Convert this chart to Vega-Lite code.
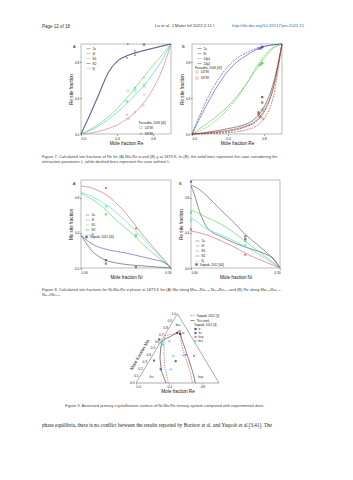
{
"$schema":"https://vega.github.io/schema/vega-lite/v6.json",
"padding":0,"background":"white","spacing":0,
"resolve":{"scale":{"color":"independent","shape":"independent","stroke":"independent","strokeDash":"independent","fill":"independent"},"legend":{"color":"independent","shape":"independent","stroke":"independent","strokeDash":"independent","fill":"independent"}},
"config":{
 "view":{"stroke":null},
 "font":"Liberation Sans",
 "axis":{"labelFontSize":3.2,"titleFontSize":4.6,"labelColor":"#222","titleColor":"#111","titleFontWeight":"normal","tickSize":1.5,"tickWidth":0.5,"tickColor":"#444","domain":false,"grid":false,"labelPadding":0.6,"titlePadding":1,"labelOverlap":false,"labelSeparation":0,"labelFont":"Liberation Sans","titleFont":"Liberation Sans"},
 "legend":{"labelFontSize":3,"titleFontSize":3,"titleFontWeight":"normal","symbolSize":16,"rowPadding":0,"padding":0,"labelOffset":1.5,"titlePadding":0.5,"symbolStrokeWidth":0.6,"labelColor":"#222","titleColor":"#222","orient":"none","labelFont":"Liberation Sans","titleFont":"Liberation Sans"},
 "title":{"fontSize":4,"fontWeight":"normal","color":"#222","font":"Liberation Sans"}
},
"vconcat":[
 {"width":42,"height":23,"data":{"values":[]},"mark":"point"},
 {"hconcat":[
  {"width":41,"height":19,"data":{"values":[]},"mark":"point"},
  {"width":2,"height":2,"data":{"values":[{"t":"Page 12 of 18"}]},"mark":{"type":"text","align":"left","baseline":"top","fontSize":4.5,"color":"#333"},"encoding":{"text":{"field":"t","type":"nominal"}}},
  {"width":111,"height":1,"data":{"values":[]},"mark":"point"},
  {"width":2,"height":2,"data":{"values":[{"t":"Lu et al.  J Mater Inf 2022;2:11  I"}]},"mark":{"type":"text","align":"left","baseline":"top","fontSize":4.3,"color":"#333"},"encoding":{"text":{"field":"t","type":"nominal"}}},
  {"width":75,"height":1,"data":{"values":[]},"mark":"point"},
  {"width":2,"height":2,"data":{"values":[{"t":"http://dx.doi.org/10.20517/jmi.2022.15"}]},"mark":{"type":"text","align":"left","baseline":"top","fontSize":4.3,"color":"#2a6ebb"},"encoding":{"text":{"field":"t","type":"nominal"}}}
 ],"spacing":0,"bounds":"flush"},
 {"hconcat":[
  {"width":81,"height":110,"data":{"values":[]},"mark":"point"},
  {"width":90,"height":90,
   "view":{"stroke":"#777","strokeWidth":0.5},
   "title":{"text":"A","anchor":"start","frame":"group","dx":-8,"offset":-6.5},
   "layer":[
    {"data":{"values":[
     {"s":"2a","x":0,"y":0},{"s":"2a","x":0.1,"y":0.21},{"s":"2a","x":0.2,"y":0.44},{"s":"2a","x":0.3,"y":0.67},{"s":"2a","x":0.4,"y":0.8},{"s":"2a","x":0.5,"y":0.865},{"s":"2a","x":0.6,"y":0.9},{"s":"2a","x":0.7,"y":0.925},{"s":"2a","x":0.8,"y":0.95},{"s":"2a","x":0.9,"y":0.975},{"s":"2a","x":1,"y":1},
     {"s":"4f","x":0,"y":0},{"s":"4f","x":0.1,"y":0.01},{"s":"4f","x":0.2,"y":0.03},{"s":"4f","x":0.3,"y":0.06},{"s":"4f","x":0.4,"y":0.1},{"s":"4f","x":0.5,"y":0.16},{"s":"4f","x":0.6,"y":0.24},{"s":"4f","x":0.7,"y":0.35},{"s":"4f","x":0.8,"y":0.5},{"s":"4f","x":0.9,"y":0.71},{"s":"4f","x":1,"y":1},
     {"s":"8i1","x":0,"y":0},{"s":"8i1","x":0.1,"y":0.05},{"s":"8i1","x":0.2,"y":0.11},{"s":"8i1","x":0.3,"y":0.19},{"s":"8i1","x":0.4,"y":0.28},{"s":"8i1","x":0.5,"y":0.39},{"s":"8i1","x":0.6,"y":0.51},{"s":"8i1","x":0.7,"y":0.64},{"s":"8i1","x":0.8,"y":0.76},{"s":"8i1","x":0.9,"y":0.88},{"s":"8i1","x":1,"y":1},
     {"s":"8i2","x":0,"y":0},{"s":"8i2","x":0.1,"y":0.22},{"s":"8i2","x":0.2,"y":0.45},{"s":"8i2","x":0.3,"y":0.68},{"s":"8i2","x":0.4,"y":0.81},{"s":"8i2","x":0.5,"y":0.865},{"s":"8i2","x":0.6,"y":0.9},{"s":"8i2","x":0.7,"y":0.93},{"s":"8i2","x":0.8,"y":0.955},{"s":"8i2","x":0.9,"y":0.978},{"s":"8i2","x":1,"y":1},
     {"s":"8j","x":0,"y":0},{"s":"8j","x":0.1,"y":0.04},{"s":"8j","x":0.2,"y":0.09},{"s":"8j","x":0.3,"y":0.16},{"s":"8j","x":0.4,"y":0.24},{"s":"8j","x":0.5,"y":0.33},{"s":"8j","x":0.6,"y":0.43},{"s":"8j","x":0.7,"y":0.54},{"s":"8j","x":0.8,"y":0.67},{"s":"8j","x":0.9,"y":0.82},{"s":"8j","x":1,"y":1}
    ]},
    "mark":{"type":"line","interpolate":"monotone","strokeWidth":0.6},
    "encoding":{
     "x":{"field":"x","type":"quantitative","scale":{"domain":[0,1]},"axis":{"values":[0,0.1,0.2,0.3,0.4,0.5,0.6,0.7,0.8,0.9,1],"format":".1f","title":"Mole fraction Re","labelOverlap":false}},
     "y":{"field":"y","type":"quantitative","scale":{"domain":[0,1]},"axis":{"values":[0,0.1,0.2,0.3,0.4,0.5,0.6,0.7,0.8,0.9,1],"format":".1f","title":"Re site fraction","labelOverlap":false}},
     "color":{"field":"s","type":"nominal","scale":{"domain":["2a","4f","8i1","8i2","8j"],"range":["#505050","#e06666","#55cc55","#2e2e8a","#33cccc"]},"legend":{"title":null,"legendX":5,"legendY":2,"symbolType":"stroke"}}}},
    {"data":{"values":[
     {"s":"2a","x":0.52,"y":1.0,"t":"1873K"},{"s":"2a","x":0.7,"y":1.0,"t":"1873K"},
     {"s":"8i2","x":0.51,"y":0.85,"t":"1873K"},{"s":"8i2","x":0.6,"y":0.88,"t":"1873K"},{"s":"8i2","x":0.6,"y":0.92,"t":"1473K"},{"s":"8i2","x":0.7,"y":0.99,"t":"1473K"},
     {"s":"8i1","x":0.51,"y":0.37,"t":"1873K"},{"s":"8i1","x":0.6,"y":0.52,"t":"1873K"},{"s":"8i1","x":0.7,"y":0.63,"t":"1873K"},{"s":"8i1","x":0.52,"y":0.48,"t":"1473K"},{"s":"8i1","x":0.6,"y":0.5,"t":"1473K"},
     {"s":"8j","x":0.51,"y":0.36,"t":"1473K"},{"s":"8j","x":0.6,"y":0.48,"t":"1473K"},{"s":"8j","x":0.7,"y":0.55,"t":"1473K"},{"s":"8j","x":0.7,"y":0.53,"t":"1873K"},
     {"s":"4f","x":0.51,"y":0.22,"t":"1873K"},{"s":"4f","x":0.53,"y":0.17,"t":"1473K"},{"s":"4f","x":0.6,"y":0.25,"t":"1873K"},{"s":"4f","x":0.7,"y":0.44,"t":"1873K"},{"s":"4f","x":0.69,"y":0.32,"t":"1473K"}
    ]},
    "layer":[
     {"transform":[{"filter":"datum.t=='1473K'"}],"mark":{"type":"point","filled":false,"size":5,"strokeWidth":0.5},
      "encoding":{"x":{"field":"x","type":"quantitative"},"y":{"field":"y","type":"quantitative"},"color":{"field":"s","type":"nominal"},
       "shape":{"field":"t","type":"nominal","scale":{"domain":["1473K","1873K"],"range":["circle","triangle-up"]},"legend":{"title":"Farzadfar, 2009 [40]","legendX":58,"legendY":78,"symbolSize":6}}}},
     {"transform":[{"filter":"datum.t=='1873K'"}],"mark":{"type":"point","filled":true,"size":5},
      "encoding":{"x":{"field":"x","type":"quantitative"},"y":{"field":"y","type":"quantitative"},"color":{"field":"s","type":"nominal"},"shape":{"field":"t","type":"nominal"}}}
    ]}
   ]},
  {"width":21,"height":1,"data":{"values":[]},"mark":"point"},
  {"width":90,"height":90,
   "view":{"stroke":"#777","strokeWidth":0.5},
   "title":{"text":"B","anchor":"start","frame":"group","dx":-10,"offset":-6.5},
   "layer":[
    {"data":{"values":[
     {"s":"24g2","m":"L","x":0,"y":0},{"s":"24g2","m":"L","x":0.1,"y":0.2},{"s":"24g2","m":"L","x":0.2,"y":0.39},{"s":"24g2","m":"L","x":0.3,"y":0.56},{"s":"24g2","m":"L","x":0.4,"y":0.7},{"s":"24g2","m":"L","x":0.5,"y":0.8},{"s":"24g2","m":"L","x":0.6,"y":0.87},{"s":"24g2","m":"L","x":0.7,"y":0.93},{"s":"24g2","m":"L","x":0.8,"y":0.97},{"s":"24g2","m":"L","x":0.9,"y":0.99},{"s":"24g2","m":"L","x":1,"y":1},
     {"s":"24g2","m":"N","x":0,"y":0},{"s":"24g2","m":"N","x":0.1,"y":0.24},{"s":"24g2","m":"N","x":0.2,"y":0.45},{"s":"24g2","m":"N","x":0.3,"y":0.62},{"s":"24g2","m":"N","x":0.4,"y":0.75},{"s":"24g2","m":"N","x":0.5,"y":0.84},{"s":"24g2","m":"N","x":0.6,"y":0.9},{"s":"24g2","m":"N","x":0.7,"y":0.945},{"s":"24g2","m":"N","x":0.8,"y":0.975},{"s":"24g2","m":"N","x":0.9,"y":0.99},{"s":"24g2","m":"N","x":1,"y":1},
     {"s":"24g1","m":"L","x":0,"y":0},{"s":"24g1","m":"L","x":0.1,"y":0.07},{"s":"24g1","m":"L","x":0.2,"y":0.14},{"s":"24g1","m":"L","x":0.3,"y":0.22},{"s":"24g1","m":"L","x":0.4,"y":0.31},{"s":"24g1","m":"L","x":0.5,"y":0.42},{"s":"24g1","m":"L","x":0.6,"y":0.55},{"s":"24g1","m":"L","x":0.7,"y":0.7},{"s":"24g1","m":"L","x":0.8,"y":0.84},{"s":"24g1","m":"L","x":0.9,"y":0.95},{"s":"24g1","m":"L","x":1,"y":1},
     {"s":"24g1","m":"N","x":0,"y":0},{"s":"24g1","m":"N","x":0.1,"y":0.04},{"s":"24g1","m":"N","x":0.2,"y":0.1},{"s":"24g1","m":"N","x":0.3,"y":0.18},{"s":"24g1","m":"N","x":0.4,"y":0.28},{"s":"24g1","m":"N","x":0.5,"y":0.4},{"s":"24g1","m":"N","x":0.6,"y":0.55},{"s":"24g1","m":"N","x":0.7,"y":0.72},{"s":"24g1","m":"N","x":0.8,"y":0.87},{"s":"24g1","m":"N","x":0.9,"y":0.96},{"s":"24g1","m":"N","x":1,"y":1},
     {"s":"2a","m":"L","x":0,"y":0},{"s":"2a","m":"L","x":0.1,"y":0.01},{"s":"2a","m":"L","x":0.2,"y":0.025},{"s":"2a","m":"L","x":0.3,"y":0.04},{"s":"2a","m":"L","x":0.4,"y":0.06},{"s":"2a","m":"L","x":0.5,"y":0.08},{"s":"2a","m":"L","x":0.6,"y":0.11},{"s":"2a","m":"L","x":0.7,"y":0.17},{"s":"2a","m":"L","x":0.8,"y":0.3},{"s":"2a","m":"L","x":0.9,"y":0.55},{"s":"2a","m":"L","x":1,"y":1},
     {"s":"2a","m":"N","x":0,"y":0},{"s":"2a","m":"N","x":0.2,"y":0.01},{"s":"2a","m":"N","x":0.4,"y":0.03},{"s":"2a","m":"N","x":0.5,"y":0.05},{"s":"2a","m":"N","x":0.6,"y":0.08},{"s":"2a","m":"N","x":0.7,"y":0.13},{"s":"2a","m":"N","x":0.8,"y":0.24},{"s":"2a","m":"N","x":0.9,"y":0.5},{"s":"2a","m":"N","x":1,"y":1},
     {"s":"8c","m":"L","x":0,"y":0},{"s":"8c","m":"L","x":0.2,"y":0.015},{"s":"8c","m":"L","x":0.4,"y":0.04},{"s":"8c","m":"L","x":0.5,"y":0.06},{"s":"8c","m":"L","x":0.6,"y":0.09},{"s":"8c","m":"L","x":0.7,"y":0.14},{"s":"8c","m":"L","x":0.8,"y":0.26},{"s":"8c","m":"L","x":0.9,"y":0.5},{"s":"8c","m":"L","x":1,"y":1},
     {"s":"8c","m":"N","x":0,"y":0},{"s":"8c","m":"N","x":0.2,"y":0.005},{"s":"8c","m":"N","x":0.4,"y":0.015},{"s":"8c","m":"N","x":0.5,"y":0.025},{"s":"8c","m":"N","x":0.6,"y":0.045},{"s":"8c","m":"N","x":0.7,"y":0.08},{"s":"8c","m":"N","x":0.8,"y":0.17},{"s":"8c","m":"N","x":0.9,"y":0.4},{"s":"8c","m":"N","x":1,"y":1}
    ]},
    "mark":{"type":"line","interpolate":"monotone","strokeWidth":0.6},
    "encoding":{
     "x":{"field":"x","type":"quantitative","scale":{"domain":[0,1]},"axis":{"values":[0,0.1,0.2,0.3,0.4,0.5,0.6,0.7,0.8,0.9,1],"format":".1f","title":"Mole fraction Re","labelOverlap":false}},
     "y":{"field":"y","type":"quantitative","scale":{"domain":[0,1]},"axis":{"values":[0,0.1,0.2,0.3,0.4,0.5,0.6,0.7,0.8,0.9,1],"format":".1f","title":"Re site fraction","labelOverlap":false}},
     "color":{"field":"s","type":"nominal","scale":{"domain":["2a","8c","24g1","24g2"],"range":["#333333","#b83030","#44c044","#3636b8"]},"legend":{"title":null,"legendX":5,"legendY":2,"symbolType":"stroke"}},
     "strokeDash":{"field":"m","type":"nominal","scale":{"domain":["L","N"],"range":[[1,0],[2,1]]},"legend":null}}},
    {"data":{"values":[
     {"s":"24g2","x":0.74,"y":0.95,"t":"1473K"},{"s":"24g2","x":0.76,"y":0.95,"t":"1873K"},{"s":"24g2","x":0.78,"y":0.97,"t":"1873K"},{"s":"24g2","x":0.78,"y":0.96,"t":"1473K"},
     {"s":"24g1","x":0.74,"y":0.76,"t":"1473K"},{"s":"24g1","x":0.76,"y":0.77,"t":"1873K"},{"s":"24g1","x":0.78,"y":0.79,"t":"1873K"},{"s":"24g1","x":0.78,"y":0.78,"t":"1473K"},
     {"s":"2a","x":0.74,"y":0.24,"t":"1873K"},{"s":"2a","x":0.78,"y":0.41,"t":"1873K"},{"s":"2a","x":0.78,"y":0.27,"t":"1473K"},{"s":"2a","x":0.76,"y":0.19,"t":"1473K"},
     {"s":"8c","x":0.74,"y":0.22,"t":"1873K"},{"s":"8c","x":0.78,"y":0.35,"t":"1873K"},{"s":"8c","x":0.75,"y":0.2,"t":"1473K"},{"s":"8c","x":0.79,"y":0.17,"t":"1473K"}
    ]},
    "layer":[
     {"transform":[{"filter":"datum.t=='1473K'"}],"mark":{"type":"point","filled":false,"size":5,"strokeWidth":0.5},
      "encoding":{"x":{"field":"x","type":"quantitative"},"y":{"field":"y","type":"quantitative"},"color":{"field":"s","type":"nominal"},
       "shape":{"field":"t","type":"nominal","scale":{"domain":["1473K","1873K"],"range":["circle","square"]},"legend":{"title":"Farzadfar, 2009 [40]","legendX":3,"legendY":22.5,"symbolSize":6}}}},
     {"transform":[{"filter":"datum.t=='1873K'"}],"mark":{"type":"point","filled":true,"size":5},
      "encoding":{"x":{"field":"x","type":"quantitative"},"y":{"field":"y","type":"quantitative"},"color":{"field":"s","type":"nominal"},"shape":{"field":"t","type":"nominal"}}}
    ]}
   ]}
 ],"spacing":0,"bounds":"flush",
 "resolve":{"scale":{"color":"independent","shape":"independent","strokeDash":"independent"},"legend":{"color":"independent","shape":"independent","strokeDash":"independent"}}},
 {"hconcat":[
  {"width":41,"height":25,"data":{"values":[]},"mark":"point"},
  {"width":2,"height":2,"data":{"values":[{"t":"Figure 7. Calculated site fractions of Re for (A) Mo-Re σ and (B) χ at 1873 K. In (B), the solid lines represent the case considering the\ninteraction parameter L, while dashed lines represent the case without L."}]},"mark":{"type":"text","align":"left","baseline":"top","fontSize":4,"lineHeight":5,"lineBreak":"\n","color":"#444"},"encoding":{"text":{"field":"t","type":"nominal"}}}
 ],"spacing":0,"bounds":"flush"},
 {"hconcat":[
  {"width":81,"height":107,"data":{"values":[]},"mark":"point"},
  {"width":90,"height":88,
   "view":{"stroke":"#777","strokeWidth":0.5},
   "title":{"text":"A","anchor":"start","frame":"group","dx":-8.3,"offset":-5.5},
   "layer":[
    {"data":{"values":[
     {"s":"4f","x":0,"y":0.93},{"s":"4f","x":0.025,"y":0.92},{"s":"4f","x":0.05,"y":0.89},{"s":"4f","x":0.075,"y":0.85},{"s":"4f","x":0.1,"y":0.79},{"s":"4f","x":0.125,"y":0.71},{"s":"4f","x":0.15,"y":0.62},{"s":"4f","x":0.175,"y":0.51},{"s":"4f","x":0.2,"y":0.4},{"s":"4f","x":0.25,"y":0.2},{"s":"4f","x":0.3,"y":0},
     {"s":"8j","x":0,"y":0.86},{"s":"8j","x":0.05,"y":0.79},{"s":"8j","x":0.083,"y":0.72},{"s":"8j","x":0.1,"y":0.68},{"s":"8j","x":0.15,"y":0.53},{"s":"8j","x":0.183,"y":0.42},{"s":"8j","x":0.2,"y":0.36},{"s":"8j","x":0.25,"y":0.18},{"s":"8j","x":0.3,"y":0},
     {"s":"8i1","x":0,"y":0.85},{"s":"8i1","x":0.05,"y":0.75},{"s":"8i1","x":0.083,"y":0.66},{"s":"8i1","x":0.1,"y":0.6},{"s":"8i1","x":0.15,"y":0.45},{"s":"8i1","x":0.183,"y":0.35},{"s":"8i1","x":0.2,"y":0.29},{"s":"8i1","x":0.25,"y":0.14},{"s":"8i1","x":0.3,"y":0},
     {"s":"8i2","x":0,"y":0.37},{"s":"8i2","x":0.025,"y":0.3},{"s":"8i2","x":0.05,"y":0.25},{"s":"8i2","x":0.075,"y":0.22},{"s":"8i2","x":0.1,"y":0.2},{"s":"8i2","x":0.15,"y":0.17},{"s":"8i2","x":0.2,"y":0.13},{"s":"8i2","x":0.25,"y":0.09},{"s":"8i2","x":0.28,"y":0.06},{"s":"8i2","x":0.3,"y":0},
     {"s":"2a","x":0,"y":0.37},{"s":"2a","x":0.02,"y":0.27},{"s":"2a","x":0.04,"y":0.18},{"s":"2a","x":0.06,"y":0.13},{"s":"2a","x":0.08,"y":0.09},{"s":"2a","x":0.1,"y":0.07},{"s":"2a","x":0.15,"y":0.04},{"s":"2a","x":0.2,"y":0.025},{"s":"2a","x":0.25,"y":0.012},{"s":"2a","x":0.3,"y":0}
    ]},
    "mark":{"type":"line","interpolate":"monotone","strokeWidth":0.6},
    "encoding":{
     "x":{"field":"x","type":"quantitative","scale":{"domain":[0,0.3]},"axis":{"values":[0,0.05,0.1,0.15,0.2,0.25,0.3],"format":".2f","title":"Mole fraction Ni","labelOverlap":false}},
     "y":{"field":"y","type":"quantitative","scale":{"domain":[0,1]},"axis":{"values":[0,0.1,0.2,0.3,0.4,0.5,0.6,0.7,0.8,0.9,1],"format":".1f","title":"Mo site fraction","labelOverlap":false}},
     "color":{"field":"s","type":"nominal","scale":{"domain":["2a","4f","8i1","8i2","8j"],"range":["#444444","#dd5555","#55cc55","#4848a8","#44dddd"]},"legend":{"title":null,"legendX":4,"legendY":32.5,"symbolType":"stroke"}}}},
    {"data":{"values":[
     {"s":"4f","x":0.083,"y":0.91},{"s":"4f","x":0.183,"y":0.45},{"s":"8j","x":0.083,"y":0.70},{"s":"8j","x":0.183,"y":0.38},{"s":"8i1","x":0.083,"y":0.61},{"s":"8i1","x":0.183,"y":0.36},{"s":"2a","x":0.083,"y":0.09},{"s":"8i2","x":0.083,"y":0.05},{"s":"8i2","x":0.183,"y":0.01}
    ]},
    "mark":{"type":"point","filled":true,"size":5},
    "encoding":{"x":{"field":"x","type":"quantitative"},"y":{"field":"y","type":"quantitative"},"color":{"field":"s","type":"nominal"},
     "shape":{"datum":"Yaqoob, 2012 [40]","type":"nominal","scale":{"range":["square"]},"legend":{"title":null,"legendX":4,"legendY":55.5,"symbolSize":5,"symbolFillColor":"#111"}}}}
   ]},
  {"width":20,"height":1,"data":{"values":[]},"mark":"point"},
  {"width":89,"height":88,
   "view":{"stroke":"#777","strokeWidth":0.5},
   "title":{"text":"B","anchor":"start","frame":"group","dx":-12,"offset":-5.5},
   "layer":[
    {"data":{"values":[
     {"s":"8i2","x":0,"y":0.94},{"s":"8i2","x":0.025,"y":0.9},{"s":"8i2","x":0.05,"y":0.83},{"s":"8i2","x":0.1,"y":0.66},{"s":"8i2","x":0.15,"y":0.5},{"s":"8i2","x":0.183,"y":0.38},{"s":"8i2","x":0.2,"y":0.33},{"s":"8i2","x":0.25,"y":0.19},{"s":"8i2","x":0.28,"y":0.09},{"s":"8i2","x":0.3,"y":0},
     {"s":"2a","x":0,"y":0.93},{"s":"2a","x":0.01,"y":0.85},{"s":"2a","x":0.02,"y":0.74},{"s":"2a","x":0.03,"y":0.63},{"s":"2a","x":0.04,"y":0.55},{"s":"2a","x":0.05,"y":0.48},{"s":"2a","x":0.07,"y":0.41},{"s":"2a","x":0.1,"y":0.36},{"s":"2a","x":0.15,"y":0.28},{"s":"2a","x":0.2,"y":0.22},{"s":"2a","x":0.25,"y":0.16},{"s":"2a","x":0.28,"y":0.1},{"s":"2a","x":0.3,"y":0},
     {"s":"8i1","x":0,"y":0.66},{"s":"8i1","x":0.05,"y":0.58},{"s":"8i1","x":0.1,"y":0.5},{"s":"8i1","x":0.15,"y":0.39},{"s":"8i1","x":0.183,"y":0.3},{"s":"8i1","x":0.2,"y":0.26},{"s":"8i1","x":0.25,"y":0.13},{"s":"8i1","x":0.3,"y":0},
     {"s":"8j","x":0,"y":0.57},{"s":"8j","x":0.025,"y":0.51},{"s":"8j","x":0.05,"y":0.45},{"s":"8j","x":0.1,"y":0.38},{"s":"8j","x":0.15,"y":0.3},{"s":"8j","x":0.183,"y":0.24},{"s":"8j","x":0.2,"y":0.21},{"s":"8j","x":0.25,"y":0.11},{"s":"8j","x":0.3,"y":0},
     {"s":"4f","x":0,"y":0.42},{"s":"4f","x":0.05,"y":0.38},{"s":"4f","x":0.1,"y":0.31},{"s":"4f","x":0.15,"y":0.23},{"s":"4f","x":0.183,"y":0.17},{"s":"4f","x":0.2,"y":0.14},{"s":"4f","x":0.25,"y":0.07},{"s":"4f","x":0.3,"y":0}
    ]},
    "mark":{"type":"line","interpolate":"monotone","strokeWidth":0.6},
    "encoding":{
     "x":{"field":"x","type":"quantitative","scale":{"domain":[0,0.3]},"axis":{"values":[0,0.05,0.1,0.15,0.2,0.25,0.3],"format":".2f","title":"Mole fraction Ni","labelOverlap":false}},
     "y":{"field":"y","type":"quantitative","scale":{"domain":[0,1]},"axis":{"values":[0,0.1,0.2,0.3,0.4,0.5,0.6,0.7,0.8,0.9,1],"format":".1f","title":"Re site fraction","labelOverlap":false}},
     "color":{"field":"s","type":"nominal","scale":{"domain":["2a","4f","8i1","8i2","8j"],"range":["#444444","#dd5555","#55cc55","#4848a8","#44dddd"]},"legend":{"title":null,"legendX":4,"legendY":58.5,"symbolType":"stroke"}}}},
    {"data":{"values":[
     {"s":"8i2","x":0,"y":0.98},{"s":"8i2","x":0.183,"y":0.36},{"s":"8i1","x":0,"y":0.63},{"s":"8i1","x":0.183,"y":0.31},{"s":"8j","x":0,"y":0.54},{"s":"8j","x":0.183,"y":0.26},{"s":"4f","x":0,"y":0.44},{"s":"4f","x":0.183,"y":0.15},{"s":"2a","x":0.183,"y":0.33}
    ]},
    "mark":{"type":"point","filled":true,"size":5},
    "encoding":{"x":{"field":"x","type":"quantitative"},"y":{"field":"y","type":"quantitative"},"color":{"field":"s","type":"nominal"},
     "shape":{"datum":"Yaqoob, 2012 [40]","type":"nominal","scale":{"range":["square"]},"legend":{"title":null,"legendX":4,"legendY":83,"symbolSize":5,"symbolFillColor":"#111"}}}}
   ]}
 ],"spacing":0,"bounds":"flush",
 "resolve":{"scale":{"color":"independent","shape":"independent"},"legend":{"color":"independent","shape":"independent"}}},
 {"hconcat":[
  {"width":41,"height":24,"data":{"values":[]},"mark":"point"},
  {"width":2,"height":2,"data":{"values":[{"t":"Figure 8. Calculated site fractions for Ni-Mo-Re σ phase at 1873 K for (A) Mo along Mo₀.₇Re₀.₃-Ni₀.₃Re₀.₇ and (B) Re along Mo₀.₃Re₀.₇-\nNi₀.₃Re₀.₇."}]},"mark":{"type":"text","align":"left","baseline":"top","fontSize":4,"lineHeight":5,"lineBreak":"\n","color":"#444"},"encoding":{"text":{"field":"t","type":"nominal"}}}
 ],"spacing":0,"bounds":"flush"},
 {"hconcat":[
  {"width":136,"height":92,"data":{"values":[]},"mark":"point"},
  {"width":83,"height":72,
   "layer":[
    {"data":{"values":[{"x":0,"y":0,"o":0},{"x":1,"y":0,"o":1},{"x":0.5,"y":0.866,"o":2},{"x":0,"y":0,"o":3}]},
     "mark":{"type":"line","color":"#555","strokeWidth":0.5},
     "encoding":{"x":{"field":"x","type":"quantitative","scale":{"domain":[0,1]},"axis":{"values":[0,0.1,0.2,0.3,0.4,0.5,0.6,0.7,0.8,0.9,1],"format":".1f","title":"Mole fraction Re","tickSize":1,"labelOverlap":false}},
      "y":{"field":"y","type":"quantitative","scale":{"domain":[0,0.866]},"axis":null},"order":{"field":"o"}}},
    {"data":{"values":[
     {"src":"This work","o":0,"x":0.361,"y":0},{"src":"This work","o":1,"x":0.305,"y":0.152},{"src":"This work","o":2,"x":0.289,"y":0.313},{"src":"This work","o":3,"x":0.297,"y":0.433},{"src":"This work","o":4,"x":0.313,"y":0.514},{"src":"This work","o":5,"x":0.337,"y":0.545},{"src":"This work","o":6,"x":0.41,"y":0.577},{"src":"This work","o":7,"x":0.482,"y":0.625},{"src":"This work","o":8,"x":0.53,"y":0.658},{"src":"This work","o":9,"x":0.55,"y":0.553},{"src":"This work","o":10,"x":0.59,"y":0.433},{"src":"This work","o":11,"x":0.642,"y":0.273},{"src":"This work","o":12,"x":0.69,"y":0.112},{"src":"This work","o":13,"x":0.715,"y":0},
     {"src":"Yaqoob, 2012 [3]","o":0,"x":0.39,"y":0},{"src":"Yaqoob, 2012 [3]","o":1,"x":0.35,"y":0.19},{"src":"Yaqoob, 2012 [3]","o":2,"x":0.337,"y":0.352},{"src":"Yaqoob, 2012 [3]","o":3,"x":0.337,"y":0.514},{"src":"Yaqoob, 2012 [3]","o":4,"x":0.35,"y":0.593},{"src":"Yaqoob, 2012 [3]","o":5,"x":0.45,"y":0.61},{"src":"Yaqoob, 2012 [3]","o":6,"x":0.53,"y":0.625},{"src":"Yaqoob, 2012 [3]","o":7,"x":0.55,"y":0.47},{"src":"Yaqoob, 2012 [3]","o":8,"x":0.61,"y":0.27},{"src":"Yaqoob, 2012 [3]","o":9,"x":0.66,"y":0.11},{"src":"Yaqoob, 2012 [3]","o":10,"x":0.68,"y":0}
    ]},
     "mark":{"type":"line","strokeWidth":0.6},
     "encoding":{"x":{"field":"x","type":"quantitative"},"y":{"field":"y","type":"quantitative"},"order":{"field":"o"},
      "stroke":{"field":"src","type":"nominal","scale":{"domain":["Yaqoob, 2012 [3]","This work"],"range":["#d04040","#222222"]},"legend":{"title":null,"legendX":54,"legendY":2,"symbolType":"stroke"}},
      "strokeDash":{"field":"src","type":"nominal","scale":{"domain":["Yaqoob, 2012 [3]","This work"],"range":[[1.5,1],[1,0]]},"legend":{"title":null,"legendX":54,"legendY":2,"symbolType":"stroke"}}}},
    {"data":{"values":[
     {"p":"σ","x":0.281,"y":0.545},{"p":"σ","x":0.498,"y":0.625},{"p":"σ","x":0.53,"y":0.613},{"p":"σ","x":0.478,"y":0.273},
     {"p":"fcc","x":0.217,"y":0.28},{"p":"fcc","x":0.297,"y":0.172},
     {"p":"hcp","x":0.699,"y":0.34},{"p":"hcp","x":0.602,"y":0.352},{"p":"hcp","x":0.57,"y":0.625},
     {"p":"bcc","x":0.317,"y":0.521},{"p":"bcc","x":0.329,"y":0.48},{"p":"bcc","x":0.305,"y":0.5},{"p":"bcc","x":0.4,"y":0.52},{"p":"bcc","x":0.45,"y":0.34},{"p":"bcc","x":0.42,"y":0.168},{"p":"bcc","x":0.57,"y":0.345}
    ]},
     "mark":{"type":"point","shape":"square","filled":true,"size":4},
     "encoding":{"x":{"field":"x","type":"quantitative"},"y":{"field":"y","type":"quantitative"},
      "fill":{"field":"p","type":"nominal","scale":{"domain":["σ","fcc","hcp","bcc"],"range":["#111111","#2020c0","#d040d0","#30d0e0"]},"legend":{"title":"Yaqoob, 2011 [3]","legendX":58,"legendY":13,"symbolType":"square","symbolSize":5}}}},
    {"data":{"values":[
     {"lab":"0.0","x":0,"y":0},{"lab":"0.1","x":0.05,"y":0.0866},{"lab":"0.2","x":0.1,"y":0.1732},{"lab":"0.3","x":0.15,"y":0.2598},{"lab":"0.4","x":0.2,"y":0.3464},{"lab":"0.5","x":0.25,"y":0.433},{"lab":"0.6","x":0.3,"y":0.5196},{"lab":"0.7","x":0.35,"y":0.6062},{"lab":"0.8","x":0.4,"y":0.6928},{"lab":"0.9","x":0.45,"y":0.7794},{"lab":"1.0","x":0.5,"y":0.866}
    ]},
     "mark":{"type":"text","align":"right","baseline":"middle","dx":-1.5,"fontSize":3.2,"color":"#222"},
     "encoding":{"x":{"field":"x","type":"quantitative"},"y":{"field":"y","type":"quantitative"},"text":{"field":"lab","type":"nominal"}}},
    {"data":{"values":[{"lab":"fcc","x":0.19,"y":0.08},{"lab":"hcp","x":0.78,"y":0.08},{"lab":"bcc","x":0.51,"y":0.725}]},
     "mark":{"type":"text","fontSize":3.2,"color":"#222"},
     "encoding":{"x":{"field":"x","type":"quantitative"},"y":{"field":"y","type":"quantitative"},"text":{"field":"lab","type":"nominal"}}},
    {"data":{"values":[{"lab":"Mole fraction Mo","x":0.05,"y":0.35}]},
     "mark":{"type":"text","fontSize":4.6,"angle":300,"color":"#111"},
     "encoding":{"x":{"field":"x","type":"quantitative"},"y":{"field":"y","type":"quantitative"},"text":{"field":"lab","type":"nominal"}}}
   ]}
 ],"spacing":0,"bounds":"flush",
 "resolve":{"scale":{"stroke":"independent","strokeDash":"independent","fill":"independent"},"legend":{"stroke":"independent","strokeDash":"independent","fill":"independent"}}},
 {"hconcat":[
  {"width":64,"height":19,"data":{"values":[]},"mark":"point"},
  {"width":2,"height":2,"data":{"values":[{"t":"Figure 9. Assessed primary crystallization surface of Ni-Mo-Re ternary system compared with experimental data."}]},"mark":{"type":"text","align":"left","baseline":"top","fontSize":4,"color":"#444"},"encoding":{"text":{"field":"t","type":"nominal"}}}
 ],"spacing":0,"bounds":"flush"},
 {"hconcat":[
  {"width":41,"height":10,"data":{"values":[]},"mark":"point"},
  {"width":2,"height":2,"data":{"values":[{"t":"phase equilibria, there is no conflict between the results reported by Borisov et al. and Yaqoob et al.[3,41]. The"}]},"mark":{"type":"text","align":"left","baseline":"top","fontSize":5.2,"font":"Liberation Serif","color":"#222"},"encoding":{"text":{"field":"t","type":"nominal"}}}
 ],"spacing":0,"bounds":"flush"}
]
}
